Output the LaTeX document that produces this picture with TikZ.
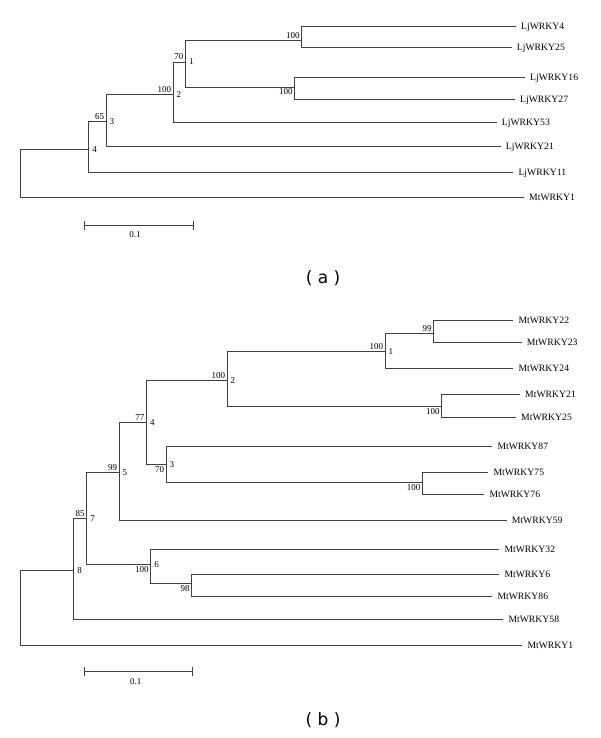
\documentclass[tikz,border=0pt]{standalone}
\usepackage{fontspec}
\setmainfont{Liberation Serif}
\newfontfamily\capfont{DejaVu Sans}

\begin{document}
\begin{tikzpicture}[
    x=1pt,
    y=-1pt,
    branch/.style={black!75, line width=0.8pt},
    leaf/.style={anchor=west, inner xsep=5pt, inner ysep=0pt, text height=6.4pt, text depth=0pt, font=\fontsize{9.7}{11}\selectfont},
    boot/.style={inner sep=1.8pt, text height=6pt, text depth=0pt, font=\fontsize{9}{10}\selectfont},
    bootup/.style={boot, anchor=south east},
    bootdown/.style={boot, anchor=north east},
    nodeid/.style={boot, anchor=west, inner xsep=3.5pt},
    caption/.style={font=\capfont\fontsize{17}{20}\selectfont}
]

\useasboundingbox (0,0) rectangle (600,738);

% =========================================================
% PARAMETERS
% =========================================================

\def\tick{4.5}

% =========================================================
% TREE (a)
% =========================================================

% Leaves
\node[leaf] (aL4)  at (516,26.7)  {LjWRKY4};
\node[leaf] (aL25) at (511.7,47.7) {LjWRKY25};
\node[leaf] (aL16) at (525,77.7)  {LjWRKY16};
\node[leaf] (aL27) at (515,99)    {LjWRKY27};
\node[leaf] (aL53) at (496.7,122.3) {LjWRKY53};
\node[leaf] (aL21) at (500.7,146.7) {LjWRKY21};
\node[leaf] (aL11) at (513.3,172.3) {LjWRKY11};
\node[leaf] (aMt1) at (524,197.3) {MtWRKY1};

% Junctions
\coordinate (aR)  at (20.7,173);
\coordinate (aN4) at (88.7,149.3);
\coordinate (aN3) at (106,121.7);
\coordinate (aN2) at (173,94.3);
\coordinate (aN1) at (185.3,62);
\coordinate (aC1) at (301.5,40.3);
\coordinate (aC2) at (294.7,87);

% Branches
\draw[branch] (aR) |- (aN4);
\draw[branch] (aR) |- (aMt1.west);
\draw[branch] (aN4) |- (aN3);
\draw[branch] (aN4) |- (aL11.west);
\draw[branch] (aN3) |- (aN2);
\draw[branch] (aN3) |- (aL21.west);
\draw[branch] (aN2) |- (aN1);
\draw[branch] (aN2) |- (aL53.west);
\draw[branch] (aN1) |- (aC1);
\draw[branch] (aN1) |- (aC2);
\draw[branch] (aC1) |- (aL4.west);
\draw[branch] (aC1) |- (aL25.west);
\draw[branch] (aC2) |- (aL16.west);
\draw[branch] (aC2) |- (aL27.west);

% Bootstrap values and node numbers
\node[bootup]   (aB1) at (aC1) {100};
\node[bootdown] (aB2) at (aC2) {100};
\node[bootup]   (aB3) at (aN1) {70};
\node[nodeid]   (aI1) at (aN1) {1};
\node[bootup]   (aB4) at (aN2) {100};
\node[nodeid]   (aI2) at (aN2) {2};
\node[bootup]   (aB5) at (aN3) {65};
\node[nodeid]   (aI3) at (aN3) {3};
\node[nodeid]   (aI4) at (aN4) {4};

% Scale
\coordinate (aS0) at (84,225.7);
\coordinate (aS1) at (193.3,225.7);
\draw[branch] (aS0) -- (aS1);
\draw[branch] ([yshift=\tick]aS0) -- ([yshift=-\tick]aS0);
\draw[branch] ([yshift=\tick]aS1) -- ([yshift=-\tick]aS1);
\node[boot] (aScale) at (135,234.3) {0.1};

\node[caption] (capA) at (323,278) {( a )};

% =========================================================
% TREE (b)
% =========================================================

% Leaves
\node[leaf] (bL22) at (513.3,320)   {MtWRKY22};
\node[leaf] (bL23) at (521.7,342.7) {MtWRKY23};
\node[leaf] (bL24) at (513.3,368.3) {MtWRKY24};
\node[leaf] (bL21) at (520,394.3)   {MtWRKY21};
\node[leaf] (bL25) at (516,417.3)   {MtWRKY25};
\node[leaf] (bL87) at (492.3,446.7) {MtWRKY87};
\node[leaf] (bL75) at (488.3,472.3) {MtWRKY75};
\node[leaf] (bL76) at (484.3,494.3) {MtWRKY76};
\node[leaf] (bL59) at (506.7,520)   {MtWRKY59};
\node[leaf] (bL32) at (499.3,549)   {MtWRKY32};
\node[leaf] (bL6)  at (499.3,574.3) {MtWRKY6};
\node[leaf] (bL86) at (492.3,596.7) {MtWRKY86};
\node[leaf] (bL58) at (503.3,619.3) {MtWRKY58};
\node[leaf] (bMt1) at (522.3,645)   {MtWRKY1};

% Junctions
\coordinate (bR)  at (20.7,600);
\coordinate (bN8) at (73.7,570.7);
\coordinate (bN7) at (86.7,518.7);
\coordinate (bN5) at (119,472.3);
\coordinate (bN4) at (146.3,422.3);
\coordinate (bN2) at (227,380.3);
\coordinate (bN1) at (385,351.7);
\coordinate (bN3) at (166,464);
\coordinate (bN6) at (150.7,564.3);
\coordinate (bC1) at (433.7,333.3);
\coordinate (bC2) at (441.7,406.7);
\coordinate (bC3) at (422.3,482);
\coordinate (bC4) at (191.7,583.3);

% Branches
\draw[branch] (bR) |- (bN8);
\draw[branch] (bR) |- (bMt1.west);
\draw[branch] (bN8) |- (bN7);
\draw[branch] (bN8) |- (bL58.west);
\draw[branch] (bN7) |- (bN5);
\draw[branch] (bN7) |- (bN6);
\draw[branch] (bN5) |- (bN4);
\draw[branch] (bN5) |- (bL59.west);
\draw[branch] (bN4) |- (bN2);
\draw[branch] (bN4) |- (bN3);
\draw[branch] (bN2) |- (bN1);
\draw[branch] (bN2) |- (bC2);
\draw[branch] (bN1) |- (bC1);
\draw[branch] (bN1) |- (bL24.west);
\draw[branch] (bC1) |- (bL22.west);
\draw[branch] (bC1) |- (bL23.west);
\draw[branch] (bC2) |- (bL21.west);
\draw[branch] (bC2) |- (bL25.west);
\draw[branch] (bN3) |- (bL87.west);
\draw[branch] (bN3) |- (bC3);
\draw[branch] (bC3) |- (bL75.west);
\draw[branch] (bC3) |- (bL76.west);
\draw[branch] (bN6) |- (bL32.west);
\draw[branch] (bN6) |- (bC4);
\draw[branch] (bC4) |- (bL6.west);
\draw[branch] (bC4) |- (bL86.west);

% Bootstrap values and node numbers
\node[bootup]   (bB1)  at (bC1) {99};
\node[bootup]   (bB2)  at (bN1) {100};
\node[nodeid]   (bI1)  at (bN1) {1};
\node[bootdown] (bB3)  at (bC2) {100};
\node[bootup]   (bB4)  at (bN2) {100};
\node[nodeid]   (bI2)  at (bN2) {2};
\node[bootdown] (bB5)  at (bC3) {100};
\node[bootdown] (bB6)  at (bN3) {70};
\node[nodeid]   (bI3)  at (bN3) {3};
\node[bootup]   (bB7)  at (bN4) {77};
\node[nodeid]   (bI4)  at (bN4) {4};
\node[bootup]   (bB8)  at (bN5) {99};
\node[nodeid]   (bI5)  at (bN5) {5};
\node[bootdown] (bB9)  at (bC4) {98};
\node[bootdown] (bB10) at (bN6) {100};
\node[nodeid]   (bI6)  at (bN6) {6};
\node[bootup]   (bB11) at (bN7) {85};
\node[nodeid]   (bI7)  at (bN7) {7};
\node[nodeid]   (bI8)  at (bN8) {8};

% Scale
\coordinate (bS0) at (84.3,671.7);
\coordinate (bS1) at (192.7,671.7);
\draw[branch] (bS0) -- (bS1);
\draw[branch] ([yshift=\tick]bS0) -- ([yshift=-\tick]bS0);
\draw[branch] ([yshift=\tick]bS1) -- ([yshift=-\tick]bS1);
\node[boot] (bScale) at (135.7,681) {0.1};

\node[caption] (capB) at (323,720) {( b )};

\end{tikzpicture}
\end{document}
